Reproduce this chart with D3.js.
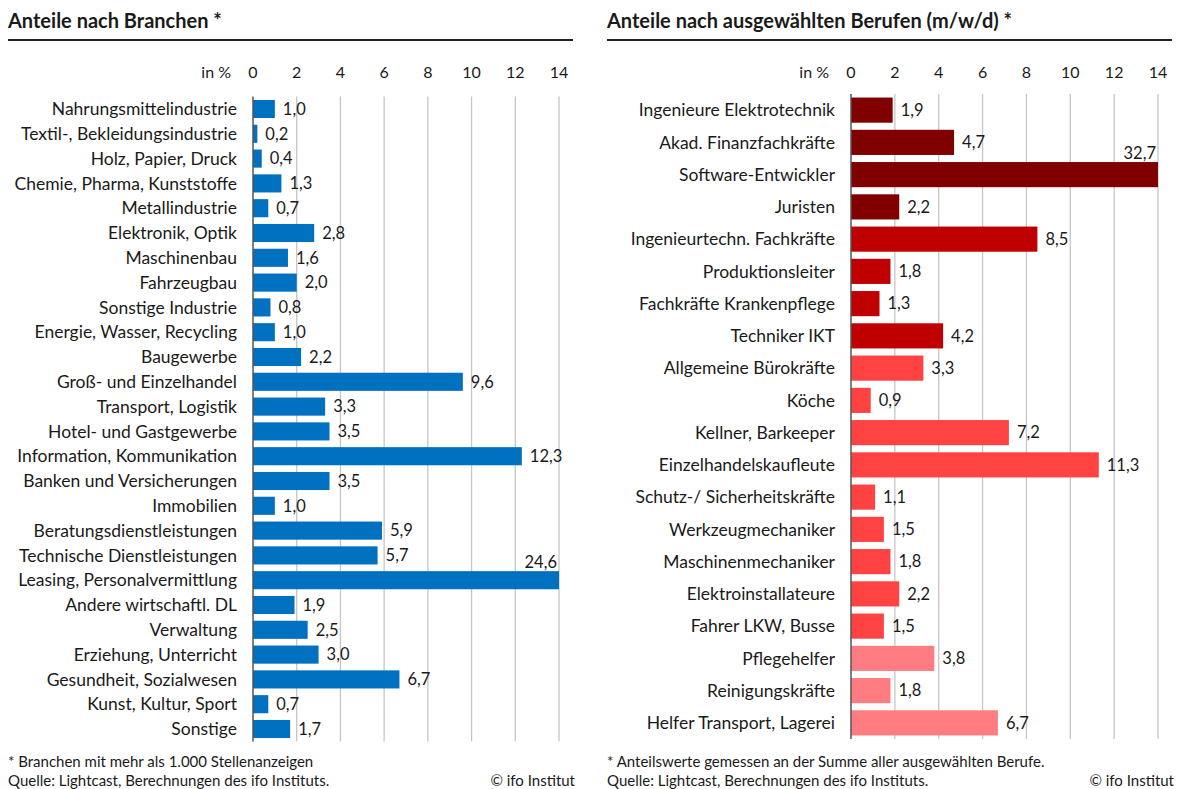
<!DOCTYPE html>
<html>
<head>
<meta charset="utf-8">
<script src="https://cdn.jsdelivr.net/npm/d3@7"></script>
<style>
  body { margin: 0; background: #fff; }
  svg text { font-family: "Source Sans Pro", Lato, "Open Sans", sans-serif; fill: #1a1a1a; }
</style>
</head>
<body>
<svg id="chart" width="1177" height="789"></svg>
<script>
// Daten: Branchen
const branchen = ["Nahrungsmittelindustrie", "Textil-, Bekleidungsindustrie", "Holz, Papier, Druck",
  "Chemie, Pharma, Kunststoffe", "Metallindustrie", "Elektronik, Optik", "Maschinenbau", "Fahrzeugbau",
  "Sonstige Industrie", "Energie, Wasser, Recycling", "Baugewerbe", "Groß- und Einzelhandel",
  "Transport, Logistik", "Hotel- und Gastgewerbe", "Information, Kommunikation", "Banken und Versicherungen",
  "Immobilien", "Beratungsdienstleistungen", "Technische Dienstleistungen", "Leasing, Personalvermittlung",
  "Andere wirtschaftl. DL", "Verwaltung", "Erziehung, Unterricht", "Gesundheit, Sozialwesen",
  "Kunst, Kultur, Sport", "Sonstige"];
const branchenWerte = [1.0, 0.2, 0.4, 1.3, 0.7, 2.8, 1.6, 2.0, 0.8, 1.0, 2.2, 9.6, 3.3, 3.5, 12.3, 3.5,
  1.0, 5.9, 5.7, 24.6, 1.9, 2.5, 3.0, 6.7, 0.7, 1.7];

// Daten: Berufe
const berufe = ["Ingenieure Elektrotechnik", "Akad. Finanzfachkräfte", "Software-Entwickler", "Juristen",
  "Ingenieurtechn. Fachkräfte", "Produktionsleiter", "Fachkräfte Krankenpflege", "Techniker IKT",
  "Allgemeine Bürokräfte", "Köche", "Kellner, Barkeeper", "Einzelhandelskaufleute",
  "Schutz-/ Sicherheitskräfte", "Werkzeugmechaniker", "Maschinenmechaniker", "Elektroinstallateure",
  "Fahrer LKW, Busse", "Pflegehelfer", "Reinigungskräfte", "Helfer Transport, Lagerei"];
const berufeWerte = [1.9, 4.7, 32.7, 2.2, 8.5, 1.8, 1.3, 4.2, 3.3, 0.9, 7.2, 11.3, 1.1, 1.5, 1.8, 2.2,
  1.5, 3.8, 1.8, 6.7];
// Farbgruppe je Beruf (0 = dunkelrot ... 3 = hellrot)
const berufeGruppe = [0, 0, 0, 0, 1, 1, 1, 1, 2, 2, 2, 2, 2, 2, 2, 2, 2, 3, 3, 3];

const ticks = [0, 2, 4, 6, 8, 10, 12, 14];

const svg = d3.select("#chart");
const fmt = v => v.toFixed(1).replace(".", ",");

function drawPanel(opt) {
  const g = svg.append("g");

  // Titel + Linie
  g.append("text")
    .attr("x", opt.left).attr("y", 28)
    .attr("font-size", 20).attr("font-weight", "bold")
    .text(opt.title);
  g.append("line")
    .attr("x1", opt.left).attr("x2", opt.right)
    .attr("y1", 40).attr("y2", 40)
    .attr("stroke", "#222").attr("stroke-width", 2);

  const x = d3.scaleLinear().domain([0, 14]).range([opt.x0, opt.x1]);
  const y = d3.scaleBand().domain(opt.cats).range([opt.yTop, opt.yBottom]).paddingInner(opt.pad).paddingOuter(opt.pad / 2);

  // Gitterlinien
  g.append("g").selectAll("line")
    .data(ticks.slice(1))
    .join("line")
    .attr("x1", d => x(d)).attr("x2", d => x(d))
    .attr("y1", opt.yTop).attr("y2", opt.yBottom)
    .attr("stroke", "#c6c6c6").attr("stroke-width", 1.3);

  // Achsenbeschriftung oben
  g.append("g").selectAll("text")
    .data(ticks)
    .join("text")
    .attr("x", d => x(d)).attr("y", 78)
    .attr("text-anchor", "middle")
    .attr("font-size", 16)
    .text(d => d);
  g.append("text")
    .attr("x", opt.x0 - 22).attr("y", 78)
    .attr("text-anchor", "end")
    .attr("font-size", 16)
    .text("in %");

  const data = opt.cats.map((c, i) => ({ cat: c, v: opt.vals[i], i }));

  // Balken
  g.append("g").selectAll("rect")
    .data(data)
    .join("rect")
    .attr("x", x(0))
    .attr("y", d => y(d.cat))
    .attr("width", d => x(Math.min(d.v, 14)) - x(0))
    .attr("height", y.bandwidth())
    .attr("fill", d => opt.color(d));

  // Nulllinie
  g.append("line")
    .attr("x1", x(0)).attr("x2", x(0))
    .attr("y1", opt.yTop).attr("y2", opt.yBottom)
    .attr("stroke", "#555").attr("stroke-width", 1.5);

  // Kategorien
  g.append("g").selectAll("text")
    .data(data)
    .join("text")
    .attr("x", opt.x0 - 16)
    .attr("y", d => y(d.cat) + y.bandwidth() / 2)
    .attr("dy", "0.35em")
    .attr("text-anchor", "end")
    .attr("font-size", 17.5)
    .text(d => d.cat);

  // Werte (Balken über 14 werden abgeschnitten, Wert steht darüber)
  g.append("g").selectAll("text")
    .data(data)
    .join("text")
    .attr("x", d => d.v > 14 ? x(14) - 2 : x(d.v) + 8)
    .attr("y", d => d.v > 14 ? y(d.cat) - 3 : y(d.cat) + y.bandwidth() / 2)
    .attr("dy", d => d.v > 14 ? "0" : "0.35em")
    .attr("text-anchor", d => d.v > 14 ? "end" : "start")
    .attr("font-size", 16.5)
    .text(d => fmt(d.v));

  // Fußnoten
  g.append("text")
    .attr("x", opt.left).attr("y", 767)
    .attr("font-size", 15)
    .text(opt.note);
  g.append("text")
    .attr("x", opt.left).attr("y", 786)
    .attr("font-size", 15)
    .text("Quelle: Lightcast, Berechnungen des ifo Instituts.");
  g.append("text")
    .attr("x", opt.right + 2).attr("y", 786)
    .attr("text-anchor", "end")
    .attr("font-size", 15)
    .text("© ifo Institut");
}

drawPanel({
  title: "Anteile nach Branchen *",
  note: "* Branchen mit mehr als 1.000 Stellenanzeigen",
  left: 8, right: 573,
  x0: 253, x1: 559,
  yTop: 96.6, yBottom: 741.4, pad: 0.27,
  cats: branchen, vals: branchenWerte,
  color: () => "#0070C0"
});

const rot = ["#800000", "#C00000", "#FF4343", "#FF7C80"];
drawPanel({
  title: "Anteile nach ausgewählten Berufen (m/w/d) *",
  note: "* Anteilswerte gemessen an der Summe aller ausgewählten Berufe.",
  left: 607, right: 1172,
  x0: 851, x1: 1158,
  yTop: 94, yBottom: 739, pad: 0.22,
  cats: berufe, vals: berufeWerte,
  color: d => rot[berufeGruppe[d.i]]
});
</script>
</body>
</html>
